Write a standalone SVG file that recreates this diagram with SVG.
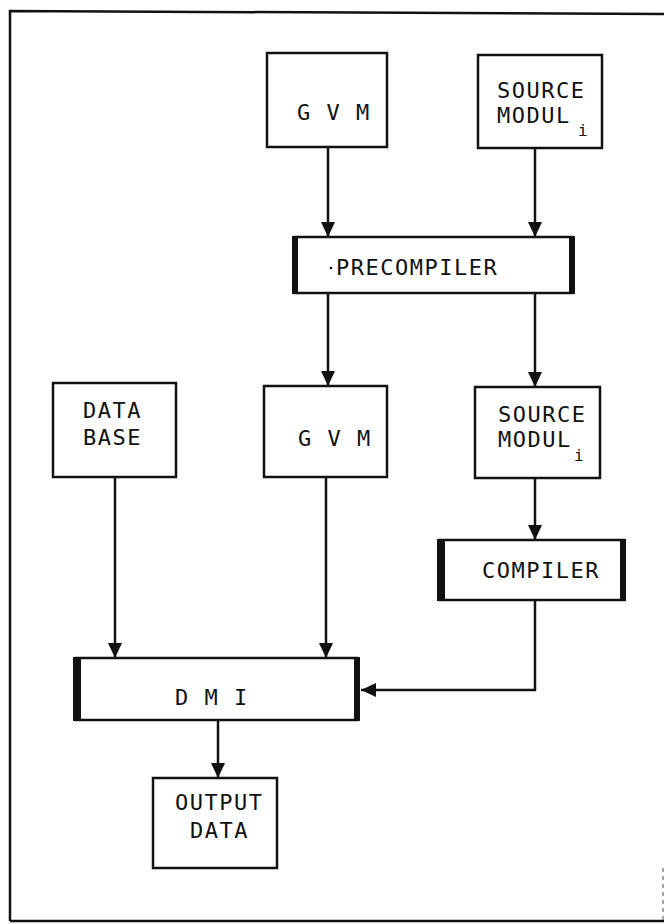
<svg xmlns="http://www.w3.org/2000/svg" width="664" height="924" viewBox="0 0 664 924">
<style>
.box{fill:#fff;stroke:#111;stroke-width:2.5}
.thick{fill:#111}
.t{font-family:"DejaVu Sans Mono","Liberation Mono",monospace;font-size:22px;fill:#111;letter-spacing:1.5px}
.sub{font-family:"DejaVu Sans Mono","Liberation Mono",monospace;font-size:16px;fill:#111}
.c{fill:none;stroke:#111;stroke-width:2.5}
.frame{fill:none;stroke:#111;stroke-width:2.5}
</style>
<defs>
<marker id="ah" markerUnits="userSpaceOnUse" markerWidth="16" markerHeight="14" refX="15" refY="7" orient="auto">
<path d="M0,0 L15,7 L0,14 z" fill="#111"/>
</marker>
</defs>
<rect width="664" height="924" fill="#fff"/>
<g id="frame">
<path class="frame" d="M10,921 L10,11 L664,14"/>
<path class="frame" d="M10,921 L664,921"/>
<path d="M663,868 L663,924" stroke="#888" stroke-width="1.5" stroke-dasharray="4,4" fill="none"/>
</g>
<g id="connectors">
<path class="c" d="M328,147 L328,237" marker-end="url(#ah)"/>
<path class="c" d="M535,148 L535,237" marker-end="url(#ah)"/>
<path class="c" d="M328,293 L328,386" marker-end="url(#ah)"/>
<path class="c" d="M535,293 L535,387" marker-end="url(#ah)"/>
<path class="c" d="M535,478 L535,540" marker-end="url(#ah)"/>
<path class="c" d="M115,477 L115,658" marker-end="url(#ah)"/>
<path class="c" d="M326,477 L326,658" marker-end="url(#ah)"/>
<path class="c" d="M535,600 L535,690 L361,690" marker-end="url(#ah)"/>
<path class="c" d="M218,720 L218,778" marker-end="url(#ah)"/>
</g>
<g id="gvm1">
<rect class="box" x="267" y="53" width="120" height="94"/>
<text class="t" x="297" y="120">G V M</text>
</g>
<g id="source1">
<rect class="box" x="478" y="55" width="124" height="93"/>
<text class="t" x="497" y="98">SOURCE</text>
<text class="t" x="497" y="123">MODUL</text>
<text class="sub" x="578" y="136">i</text>
</g>
<g id="precompiler">
<rect class="box" x="295" y="237" width="277" height="56"/>
<rect class="thick" x="292" y="236" width="6" height="58"/>
<rect class="thick" x="569" y="236" width="6" height="58"/>
<circle cx="331" cy="268" r="1.3" fill="#111"/>
<text class="t" x="336" y="275">PRECOMPILER</text>
</g>
<g id="database">
<rect class="box" x="53" y="383" width="123" height="94"/>
<text class="t" x="83" y="418">DATA</text>
<text class="t" x="83" y="445">BASE</text>
</g>
<g id="gvm2">
<rect class="box" x="264" y="386" width="123" height="91"/>
<text class="t" x="298" y="446">G V M</text>
</g>
<g id="source2">
<rect class="box" x="475" y="387" width="125" height="91"/>
<text class="t" x="498" y="422">SOURCE</text>
<text class="t" x="498" y="447">MODUL</text>
<text class="sub" x="574" y="461">i</text>
</g>
<g id="compiler">
<rect class="box" x="440" y="540" width="184" height="60"/>
<rect class="thick" x="437" y="539" width="8" height="62"/>
<rect class="thick" x="620" y="539" width="6" height="62"/>
<text class="t" x="482" y="578">COMPILER</text>
</g>
<g id="dmi">
<rect class="box" x="76" y="658" width="281" height="62"/>
<rect class="thick" x="73" y="657" width="8" height="64"/>
<rect class="thick" x="354" y="657" width="6" height="64"/>
<text class="t" x="175" y="705">D M I</text>
</g>
<g id="output">
<rect class="box" x="153" y="778" width="124" height="90"/>
<text class="t" x="175" y="810">OUTPUT</text>
<text class="t" x="190" y="838">DATA</text>
</g>
</svg>
